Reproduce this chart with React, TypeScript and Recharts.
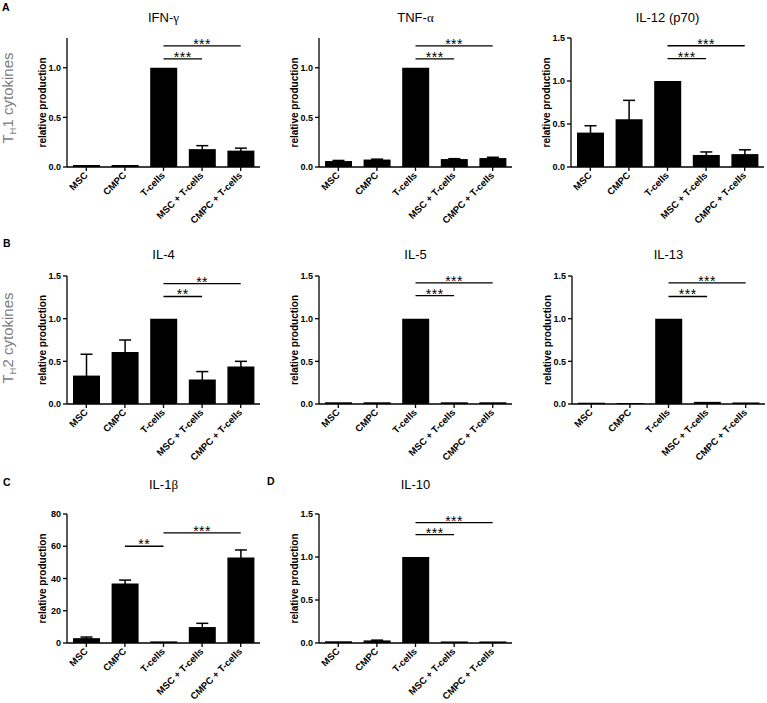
import React from "react";
import { BarChart, Bar, XAxis, YAxis, ErrorBar, ReferenceLine } from "recharts";

const groups = ["MSC", "CMPC", "T-cells", "MSC + T-cells", "CMPC + T-cells"];

// relative production, mean and SEM per group
const ifngMean = [0.02, 0.02, 1.0, 0.18, 0.165];
const ifngSem = [0, 0, 0, 0.035, 0.025];
const tnfaMean = [0.06, 0.075, 1.0, 0.08, 0.09];
const tnfaSem = [0.006, 0.004, 0, 0.004, 0.008];
const il12Mean = [0.4, 0.555, 1.0, 0.14, 0.15];
const il12Sem = [0.08, 0.22, 0, 0.035, 0.05];
const il4Mean = [0.333, 0.61, 1.0, 0.287, 0.438];
const il4Sem = [0.25, 0.14, 0, 0.093, 0.062];
const il5Mean = [0.02, 0.02, 1.0, 0.02, 0.02];
const il5Sem = [0, 0, 0, 0, 0];
const il13Mean = [0.015, 0.012, 1.0, 0.025, 0.018];
const il13Sem = [0, 0, 0, 0, 0];
const il1bMean = [3.0, 36.9, 1.0, 9.9, 53.0];
const il1bSem = [0.7, 2.1, 0, 2.3, 4.7];
const il10Mean = [0.02, 0.03, 1.0, 0.018, 0.018];
const il10Sem = [0, 0.003, 0, 0, 0];

const ticksTo1 = [0, 0.5, 1.0];
const ticksTo15 = [0, 0.5, 1.0, 1.5];
const ticksIl1b = [0, 20, 40, 60, 80];

type Sig = { from: string; to: string; at: number; stars: string };

const ifngSig: Sig[] = [
  { from: "T-cells", to: "MSC + T-cells", at: 1.09, stars: "***" },
  { from: "T-cells", to: "CMPC + T-cells", at: 1.22, stars: "***" },
];
const tnfaSig: Sig[] = [
  { from: "T-cells", to: "MSC + T-cells", at: 1.09, stars: "***" },
  { from: "T-cells", to: "CMPC + T-cells", at: 1.22, stars: "***" },
];
const il12Sig: Sig[] = [
  { from: "T-cells", to: "MSC + T-cells", at: 1.26, stars: "***" },
  { from: "T-cells", to: "CMPC + T-cells", at: 1.41, stars: "***" },
];
const il4Sig: Sig[] = [
  { from: "T-cells", to: "MSC + T-cells", at: 1.26, stars: "**" },
  { from: "T-cells", to: "CMPC + T-cells", at: 1.41, stars: "**" },
];
const il5Sig: Sig[] = [
  { from: "T-cells", to: "MSC + T-cells", at: 1.27, stars: "***" },
  { from: "T-cells", to: "CMPC + T-cells", at: 1.42, stars: "***" },
];
const il13Sig: Sig[] = [
  { from: "T-cells", to: "MSC + T-cells", at: 1.26, stars: "***" },
  { from: "T-cells", to: "CMPC + T-cells", at: 1.42, stars: "***" },
];
const il1bSig: Sig[] = [
  { from: "CMPC", to: "T-cells", at: 60, stars: "**" },
  { from: "T-cells", to: "CMPC + T-cells", at: 68.3, stars: "***" },
];
const il10Sig: Sig[] = [
  { from: "T-cells", to: "MSC + T-cells", at: 1.26, stars: "***" },
  { from: "T-cells", to: "CMPC + T-cells", at: 1.4, stars: "***" },
];

const FONT = '"Liberation Sans", Arial, sans-serif';
const greek = { fontFamily: '"Liberation Serif", "DejaVu Serif", serif' };

function GroupTick({ x, y, payload }: any) {
  const px = x + 2;
  const py = y + 3;
  return (
    <text x={px} y={py} transform={`rotate(-45 ${px} ${py})`} textAnchor="end" fontSize={9.5} fontWeight="bold" fill="#000">
      {payload.value}
    </text>
  );
}

interface PanelProps {
  title: React.ReactNode;
  titleY: number;
  axisX: number;
  plotTop: number;
  plotBottom: number;
  yMax: number;
  yTicks: number[];
  mean: number[];
  sem: number[];
  sig: Sig[];
  decimals?: boolean;
}

function Panel({ title, titleY, axisX, plotTop, plotBottom, yMax, yTicks, mean, sem, sig, decimals = true }: PanelProps) {
  const data = groups.map((g, i) => ({ name: g, value: mean[i], sem: sem[i] }));
  const top = 10;
  const bottom = 60;
  const yw = 49;
  const plotW = 193;
  const width = yw + plotW + 3;
  const height = top + (plotBottom - plotTop) + bottom;
  return (
    <>
      <div
        style={{
          position: "absolute",
          left: axisX,
          top: titleY - 8,
          width: plotW,
          textAlign: "center",
          fontSize: 13,
          lineHeight: "16px",
        }}
      >
        {title}
      </div>
      <div style={{ position: "absolute", left: axisX - yw, top: plotTop - top }}>
        <BarChart width={width} height={height} data={data} margin={{ top, right: 3, left: 0, bottom: 0 }}>
          <XAxis
            dataKey="name"
            height={bottom}
            interval={0}
            tick={<GroupTick />}
            tickSize={4}
            tickMargin={2}
            axisLine={{ stroke: "#000", strokeWidth: 1.3 }}
            tickLine={{ stroke: "#000", strokeWidth: 1.3 }}
          />
          <YAxis
            type="number"
            domain={[0, yMax]}
            ticks={yTicks}
            width={yw}
            tickSize={4}
            tickMargin={2}
            interval={0}
            tick={{ fontSize: 9, fontWeight: "bold", fill: "#000" }}
            tickFormatter={(v: number) => (decimals ? v.toFixed(1) : String(v))}
            axisLine={{ stroke: "#000", strokeWidth: 1.3 }}
            tickLine={{ stroke: "#000", strokeWidth: 1.3 }}
            label={{
              value: "relative production",
              angle: -90,
              position: "center",
              fontSize: 10,
              fontWeight: "bold",
              fill: "#000",
            }}
          />
          <Bar dataKey="value" fill="#000" barSize={27} isAnimationActive={false}>
            <ErrorBar dataKey="sem" width={6} stroke="#000" strokeWidth={1.5} direction="y" />
          </Bar>
          {sig.map((s) => (
            <ReferenceLine
              key={s.from + s.to}
              segment={[
                { x: s.from, y: s.at },
                { x: s.to, y: s.at },
              ]}
              stroke="#000"
              strokeWidth={1.3}
              label={{ value: s.stars, position: "top", offset: -3, fill: "#000", fontSize: 14, letterSpacing: 0.5 }}
            />
          ))}
        </BarChart>
      </div>
    </>
  );
}

export default function App() {
  return (
    <div
      style={{
        position: "absolute",
        left: 0,
        top: 0,
        width: 767,
        height: 703,
        overflow: "hidden",
        background: "#fff",
        fontFamily: FONT,
      }}
    >
      <svg width={767} height={703} style={{ position: "absolute", left: 0, top: 0 }}>
        <text x={2} y={10.5} fontSize={10.5} fontWeight="bold" fill="#000">A</text>
        <text x={3} y={247} fontSize={10.5} fontWeight="bold" fill="#000">B</text>
        <text x={3} y={486} fontSize={10.5} fontWeight="bold" fill="#000">C</text>
        <text x={267} y={485} fontSize={10.5} fontWeight="bold" fill="#000">D</text>
        <text transform="translate(13 98) rotate(-90)" textAnchor="middle" fontSize={15} fill="#808080">
          T<tspan fontSize={9.5} dy={3}>H</tspan>
          <tspan dy={-3}>1 cytokines</tspan>
        </text>
        <text transform="translate(13 338) rotate(-90)" textAnchor="middle" fontSize={15} fill="#808080">
          T<tspan fontSize={9.5} dy={3}>H</tspan>
          <tspan dy={-3}>2 cytokines</tspan>
        </text>
      </svg>

      <Panel title={<>IFN-<span style={greek}>γ</span></>} titleY={18} axisX={67} plotTop={38} plotBottom={167} yMax={1.3} yTicks={ticksTo1} mean={ifngMean} sem={ifngSem} sig={ifngSig} />
      <Panel title={<>TNF-<span style={greek}>α</span></>} titleY={18} axisX={319} plotTop={38} plotBottom={167} yMax={1.3} yTicks={ticksTo1} mean={tnfaMean} sem={tnfaSem} sig={tnfaSig} />
      <Panel title="IL-12 (p70)" titleY={18} axisX={571} plotTop={38} plotBottom={167} yMax={1.5} yTicks={ticksTo15} mean={il12Mean} sem={il12Sem} sig={il12Sig} />

      <Panel title="IL-4" titleY={255} axisX={67} plotTop={276} plotBottom={404} yMax={1.5} yTicks={ticksTo15} mean={il4Mean} sem={il4Sem} sig={il4Sig} />
      <Panel title="IL-5" titleY={255} axisX={319} plotTop={276} plotBottom={404} yMax={1.5} yTicks={ticksTo15} mean={il5Mean} sem={il5Sem} sig={il5Sig} />
      <Panel title="IL-13" titleY={255} axisX={572} plotTop={276} plotBottom={404} yMax={1.5} yTicks={ticksTo15} mean={il13Mean} sem={il13Sem} sig={il13Sig} />

      <Panel title={<>IL-1<span style={greek}>β</span></>} titleY={485} axisX={67} plotTop={514} plotBottom={643} yMax={80} yTicks={ticksIl1b} mean={il1bMean} sem={il1bSem} sig={il1bSig} decimals={false} />
      <Panel title="IL-10" titleY={485} axisX={319} plotTop={514} plotBottom={643} yMax={1.5} yTicks={ticksTo15} mean={il10Mean} sem={il10Sem} sig={il10Sig} />
    </div>
  );
}
